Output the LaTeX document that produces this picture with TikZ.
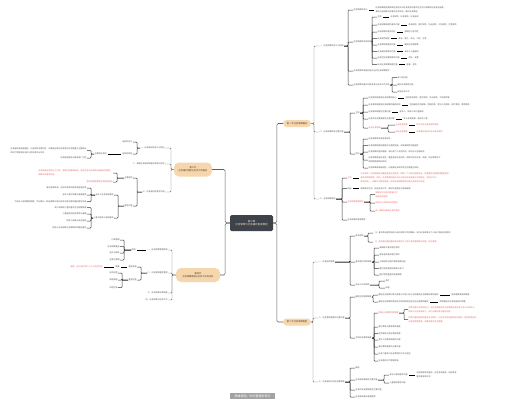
\documentclass[tikz,border=0pt]{standalone}
\usepackage{fontspec}
\setmainfont{Noto Sans CJK SC}
\usetikzlibrary{positioning}
\definecolor{txt}{HTML}{555555}
\definecolor{redc}{HTML}{EE5F5F}
\definecolor{pillc}{HTML}{F6D6AC}
\definecolor{pilltxt}{HTML}{4A3B2C}
\definecolor{ctrc}{HTML}{3D424B}
\definecolor{ctrtxt}{HTML}{F2DDB8}
\definecolor{ln0}{HTML}{5F5F5F}
\definecolor{ln1}{HTML}{707070}
\definecolor{ln2}{HTML}{3A3A3A}
\definecolor{capc}{HTML}{A3A3A3}
\begin{document}
\begin{tikzpicture}[x=1pt,y=-1pt,
 t/.style={font=\fontsize{2}{3.9}\selectfont,text=txt,inner sep=0.3pt,anchor=west,align=left},
 tl/.style={t,anchor=east},
 rd/.style={text=redc},
 pill/.style={fill=pillc,text=pilltxt,rounded corners=3.5pt,inner sep=0pt,font=\fontsize{2.2}{3.3}\selectfont,align=center},
 ctr/.style={fill=ctrc,text=ctrtxt,rounded corners=1.5pt,inner sep=0pt,font=\fontsize{2.5}{3.8}\selectfont,align=center,minimum width=43pt,minimum height=16pt},
 l0/.style={draw=ln0,line width=0.55pt,rounded corners=1.5pt},
 l1/.style={draw=ln1,line width=0.45pt,rounded corners=1pt},
 l2/.style={draw=ln2,line width=0.5pt,rounded corners=0.8pt},
 dsh/.style={draw=black,line width=0.8pt,shorten <=1pt,shorten >=1pt},
 captionbox/.style={fill=capc,text=white,inner sep=0pt,font=\fontsize{3}{3.5}\selectfont,minimum width=45pt,minimum height=6pt}]
\fill[white] (0,0) rectangle (506,407);

% ---------- main nodes ----------
\node[ctr] (C) at (251.5,223) {第三章\\社会保障与社会福利制度概述};
\node[pill,minimum width=28pt,minimum height=7pt] (R1) at (297,123.5) {第一节 社会保障概述};
\node[pill,minimum width=28pt,minimum height=7pt] (R2) at (297,322) {第二节 社会保障制度};
\node[pill,minimum width=38pt,minimum height=14pt,rounded corners=5pt] (L1) at (193,169.5) {第三节\\社会福利制度与社会工作服务};
\node[pill,minimum width=44pt,minimum height=14pt,rounded corners=5pt] (L2) at (198,275) {第四节\\社会保障管理与社会工作的关系};
\node[captionbox] (capt) at (252.5,396) {思维导图，知识整理好帮手};

% ---------- R1 subtree ----------
\node[t] (a) at (319,46) {一、社会保障的含义与构成};
\node[t] (b) at (319,132) {二、社会保障体系主要内容};
\node[t] (c) at (319,199) {三、社会保障原则};

\node[t] (a1) at (353,10) {社会保障的含义};
\node[t,right=7pt of a1] (a1x) {社会保障是指国家和社会依法对社会成员的基本生活予以保障的社会安全制度，\\其核心是保障公民基本生存权利，维护社会稳定。};
\node[t] (a2) at (353,42) {社会保障体系的构成};
\node[t] (a3) at (353,71) {社会保障的发展历程与当代社会保障模式};
\node[t] (a4) at (353,85) {社会保障的基本功能及其与社会工作关系};

\node[t] (a21) at (377,17) {主体};
\node[t] (a22) at (377,25) {社会保障制度的基本内容};
\node[t] (a23) at (377,32) {社会保障的基本特征};
\node[t] (a24) at (377,38.5) {社会保险制度};
\node[t] (a25) at (377,45) {社会救助制度的内容};
\node[t] (a26) at (377,51.5) {社会福利制度的内容};
\node[t] (a27) at (377,58) {社会优抚安置制度的内容};
\node[t] (a28) at (377,64.5) {补充社会保障制度内容};
\node[t,right=8pt of a21] (a21x) {社会保险、社会救助、社会福利};
\node[t,right=8pt of a22] (a22x) {养老保险、医疗保险、失业保险、工伤保险、生育保险};
\node[t,right=8pt of a23] (a23x) {强制性与互济性};
\node[t,right=8pt of a24] (a24x) {养老、医疗、失业、工伤、生育};
\node[t,right=8pt of a25] (a25x) {最低生活保障等};
\node[t,right=8pt of a26] (a26x) {老年人儿童福利};
\node[t,right=8pt of a27] (a27x) {优抚、安置};
\node[t,right=8pt of a28] (a28x) {慈善、互助};

\node[t] (a41) at (397,77.5) {收入再分配};
\node[t] (a42) at (397,85) {维护社会稳定功能};
\node[t] (a43) at (397,92) {促进社会公平};

\node[t] (b1) at (355,113) {主体};
\node[t] (b2) at (355,154) {特点};
\node[t] (b11) at (368,98) {社会保险制度是社会保障的核心};
\node[t] (b12) at (368,105) {社会救助制度是社会保障的最低层次};
\node[t] (b13) at (368,112) {社会福利制度的主要内容};
\node[t] (b14) at (368,119) {社会优抚安置制度的主要对象};
\node[t,rd] (b15) at (368,128) {补充社会保障};
\node[t,right=8pt of b11] (b11x) {包括养老保险、医疗保险、失业保险、工伤保险等};
\node[t,right=8pt of b12] (b12x) {包括最低生活保障、特困供养、受灾人员救助、医疗救助、教育救助};
\node[t,right=8pt of b13] (b13x) {老年人、残疾人和儿童福利};
\node[t,right=8pt of b14] (b14x) {军人及其家属、退役军人等};
\node[t,rd] (b151) at (395,125) {企业年金制度};
\node[t,rd,right=8pt of b151] (b151x) {职工的补充养老保险制度};
\node[t,rd] (b152) at (395,132) {职业年金制度};
\node[t,rd,right=8pt of b152] (b152x) {机关事业单位的补充养老保险};

\node[t] (b21) at (368,139) {社会保障项目具有多样性};
\node[t] (b22) at (368,145.5) {社会保障制度由国家立法强制实施，具有强制性和普遍性};
\node[t] (b23) at (368,152) {社会保障资金由国家、单位和个人共同负担，权利与义务相结合};
\node[t] (b24) at (368,160) {社会保障具有社会性，覆盖全体社会成员，保障公民在年老、疾病、失业等情况下\\获得物质帮助的权利};
\node[t] (b25) at (368,168) {社会保障具有福利性，以提高社会成员的生活质量为目标};

\node[t,rd] (c1) at (347,178) {公平};
\node[t,rd,right=8pt of c1] (c1x) {公平原则：社会保障应当覆盖全体社会成员，使每一个公民在遇到年老、疾病等生活困难时都能获得\\基本的物质帮助；同时，社会保障待遇水平应与经济社会发展水平相适应，实现公平与\\效率的统一，保障水平稳步提高，体现社会保障的再分配与互助共济功能。};
\node[t] (c2) at (347,188.5) {目标};
\node[t,right=8pt of c2] (c2x) {保障基本生活、促进社会公平、维护社会稳定与和谐发展};
\node[t,rd] (c3) at (347,202) {社会保障管理原则};
\node[t,rd] (c31) at (375,194.5) {保障水平与经济发展水平\\相适应的原则};
\node[t,rd] (c32) at (375,203) {权利与义务相对应的原则};
\node[t,rd] (c33) at (375,211) {统一管理与服务社会化原则};
\node[t] (c4) at (347,220) {社会保障的发展趋势};

% ---------- R2 subtree ----------
\node[t] (d) at (318,262) {一、社会保险制度};
\node[t] (e) at (318,318) {二、社会救助制度的主要内容};
\node[t] (f) at (318,382) {三、社会福利与优抚安置制度};

\node[t] (d1) at (355,236) {养老保险};
\node[t] (d2) at (355,262) {基本医疗保险制度};
\node[t] (d3) at (355,285) {失业与工伤保险};
\node[t] (d11) at (373,233) {（1）基本养老保险由用人单位和职工共同缴纳，实行社会统筹与个人账户相结合的模式};
\node[t,rd] (d12) at (373,242) {（2）养老金待遇由基础养老金和个人账户养老金两部分组成，按月发放};
\node[t] (d21) at (379,248) {城镇职工基本医疗保险};
\node[t] (d22) at (379,255) {城乡居民基本医疗保险};
\node[t] (d23) at (379,262) {大病保险与医疗救助制度衔接};
\node[t] (d24) at (379,268.5) {医疗保险费用的结算与支付};
\node[t] (d25) at (379,275) {医疗保险基金的监督管理};
\node[t] (d31) at (385,281) {条件};
\node[t] (d32) at (385,288) {待遇};

\node[t] (e1) at (355,297) {最低生活保障制度};
\node[t] (e2) at (355,338) {专项社会救助制度};
\node[t] (e11) at (378,295) {最低生活保障对象为家庭人均收入低于当地最低生活保障标准的居民};
\node[t,right=12pt of e11] (e11x) {按照差额发放保障金};
\node[t] (e12) at (378,302) {最低生活保障标准由地方政府按照当地生活必需费用确定};
\node[t,right=10pt of e12] (e12x) {并根据经济社会发展适时调整};
\node[t,rd] (e21) at (378,313) {特困人员救助供养制度};
\node[t,rd] (e211) at (408,309.5) {供养对象为无劳动能力、无生活来源且无法定赡养抚养扶养义务人的老年人、\\残疾人以及未成年人，实行分散供养与集中供养};
\node[t,rd] (e212) at (408,319.5) {供养内容包括提供基本生活条件、对生活不能自理的给予照料、提供疾病治疗\\办理丧葬事宜等，保障其基本生活需要};
\node[t] (e22) at (378,327) {医疗救助与教育救助制度};
\node[t] (e23) at (378,333.5) {住房救助与就业救助制度};
\node[t] (e24) at (378,340) {受灾人员救助制度的内容};
\node[t] (e25) at (378,347) {临时救助制度的主要内容};
\node[t] (e26) at (378,354) {社会力量参与社会救助的方式与途径};
\node[t] (e27) at (378,361) {社会救助工作管理体制};

\node[t] (f1) at (355,368) {概述};
\node[t] (f2) at (355,380) {社会福利制度的主要内容};
\node[t] (f3) at (355,390) {社会优抚安置制度的主要内容};
\node[t] (f4) at (355,397) {社会福利事业发展趋势};
\node[t] (f21) at (389,375) {老年人福利服务内容};
\node[t,right=8pt of f21] (f21x) {包括居家养老服务、社区养老服务、机构养老\\服务等多种形式};
\node[t] (f22) at (389,383) {儿童福利服务内容};

% ---------- L1 subtree ----------
\node[tl] (g) at (165,148) {一、社会福利的含义与特征};
\node[tl] (h) at (165,164) {二、我国社会福利制度的发展与现状};
\node[tl] (i) at (165,192) {三、社会福利的基本内容};
\node[tl] (g1) at (133,142) {福利的含义};
\node[tl] (g2) at (133,154) {福利的特征};
\node[tl] (g2x) at (107,154) {主要特征表现};
\node[tl] (g21) at (87,150.5) {社会福利具有普遍性、公益性和非营利性，以提高全体社会成员的生活质量为主要目标\\体现了国家和社会对公民的责任与关怀};
\node[tl] (g22) at (87,158) {社会福利服务对象具有广泛性};
\node[tl] (i1) at (133,178) {主要原则};
\node[tl] (i2) at (133,206) {服务内容};
\node[tl,rd] (i11) at (113,173) {社会福利应坚持以人为本、普惠与特惠相结合、政府主导与社会参与相结合的原则，\\保障公民基本权益};
\node[tl,rd] (i12) at (113,182) {坚持适度普惠型社会福利原则};
\node[tl] (i21) at (114,195) {老年人社会福利服务};
\node[tl] (i22) at (114,218) {儿童与残疾人福利服务};
\node[tl] (i211) at (87,188) {建立居家养老、社区养老和机构养老服务体系};
\node[tl] (i212) at (87,195) {老年人医疗保健与康复服务};
\node[tl] (i213) at (87,201.5) {为老年人提供精神慰藉、文化娱乐、权益保障以及社会参与等方面的福利服务内容};
\node[tl] (i221) at (87,207.5) {孤儿和困境儿童的基本生活保障制度};
\node[tl] (i222) at (87,214) {儿童福利机构的养育与康复};
\node[tl] (i223) at (87,221) {残疾人康复与就业服务};
\node[tl] (i224) at (87,228) {残疾人社会保障与无障碍环境建设服务};

% ---------- L2 subtree ----------
\node[tl] (j) at (168,250) {一、社会保障管理体制};
\node[tl] (jx) at (136,250) {构成};
\node[tl] (j1) at (120,240) {行政管理};
\node[tl] (j2) at (120,246.5) {社会保障基金};
\node[tl] (j3) at (120,253) {经办与服务};
\node[tl] (j4) at (120,260) {监督与管理};
\node[tl] (k) at (168,273) {二、社会保障基金管理};
\node[tl] (k1) at (137,267) {基金来源};
\node[tl] (k1x) at (120,267) {筹集};
\node[tl,rd] (k1y) at (103,267) {国家、用人单位和个人三方共同负担};
\node[tl] (k2) at (137,280) {基金运营};
\node[tl] (k21) at (118,273) {投资运营};
\node[tl] (k22) at (118,280) {保值增值};
\node[tl] (k23) at (118,287.5) {风险控制};
\node[tl] (l) at (168,293) {三、社会保障法律制度};
\node[tl] (m) at (168,300) {四、社会保障与社会工作};

% ---------- connectors ----------
\draw[l0] (C.east) -| ([xshift=-6pt]R1.west) -- (R1.west);
\draw[l0] (C.east) -| ([xshift=-6pt]R2.west) -- (R2.west);
\draw[l0] (C.west) -| ([xshift=13pt]L1.east) -- (L1.east);
\draw[l0] (C.west) -| ([xshift=5pt]L2.east) -- (L2.east);

\foreach \n in {a,b,c} \draw[l1] (R1.east) -| ([xshift=-5pt]\n.west) -- (\n.west);
\foreach \n in {d,e,f} \draw[l1] (R2.east) -| ([xshift=-5pt]\n.west) -- (\n.west);
\foreach \n in {g,h,i} \draw[l1] (L1.west) -| ([xshift=6pt]\n.east) -- (\n.east);
\foreach \n in {j,k,l,m} \draw[l1] (L2.west) -| ([xshift=4pt]\n.east) -- (\n.east);

\foreach \n in {a1,a2,a3,a4} \draw[l2] (a.east) -| ([xshift=-5pt]\n.west) -- (\n.west);
\foreach \n in {a21,a22,a23,a24,a25,a26,a27,a28} \draw[l2] (a2.east) -| ([xshift=-5pt]\n.west) -- (\n.west);
\foreach \n in {a41,a42,a43} \draw[l2] (a4.east) -| ([xshift=-5pt]\n.west) -- (\n.west);
\foreach \n in {b1,b2} \draw[l2] (b.east) -| ([xshift=-5pt]\n.west) -- (\n.west);
\foreach \n in {b11,b12,b13,b14,b15} \draw[l2] (b1.east) -| ([xshift=-5pt]\n.west) -- (\n.west);
\foreach \n in {b151,b152} \draw[l2] (b15.east) -| ([xshift=-7pt]\n.west) -- (\n.west);
\foreach \n in {b21,b22,b23,b24,b25} \draw[l2] (b2.east) -| ([xshift=-5pt]\n.west) -- (\n.west);
\foreach \n in {c1,c2,c3,c4} \draw[l2] (c.east) -| ([xshift=-5pt]\n.west) -- (\n.west);
\foreach \n in {c31,c32,c33} \draw[l2] (c3.east) -| ([xshift=-5pt]\n.west) -- (\n.west);
\foreach \n in {d1,d2,d3} \draw[l2] (d.east) -| ([xshift=-5pt]\n.west) -- (\n.west);
\foreach \n in {d11,d12} \draw[l2] (d1.east) -| ([xshift=-5pt]\n.west) -- (\n.west);
\foreach \n in {d21,d22,d23,d24,d25} \draw[l2] (d2.east) -| ([xshift=-5pt]\n.west) -- (\n.west);
\foreach \n in {d31,d32} \draw[l2] (d3.east) -| ([xshift=-6pt]\n.west) -- (\n.west);
\foreach \n in {e1,e2} \draw[l2] (e.east) -| ([xshift=-5pt]\n.west) -- (\n.west);
\foreach \n in {e11,e12} \draw[l2] (e1.east) -| ([xshift=-5pt]\n.west) -- (\n.west);
\foreach \n in {e21,e22,e23,e24,e25,e26,e27} \draw[l2] (e2.east) -| ([xshift=-4pt]\n.west) -- (\n.west);
\foreach \n in {e211,e212} \draw[l2] (e21.east) -| ([xshift=-4pt]\n.west) -- (\n.west);
\foreach \n in {f1,f2,f3,f4} \draw[l2] (f.east) -| ([xshift=-5pt]\n.west) -- (\n.west);
\foreach \n in {f21,f22} \draw[l2] (f2.east) -| ([xshift=-5pt]\n.west) -- (\n.west);

\foreach \n in {g1,g2} \draw[l2] (g.west) -| ([xshift=4pt]\n.east) -- (\n.east);
\foreach \n in {g21,g22} \draw[l2] (g2x.west) -| ([xshift=4pt]\n.east) -- (\n.east);
\foreach \n in {i1,i2} \draw[l2] (i.west) -| ([xshift=4pt]\n.east) -- (\n.east);
\foreach \n in {i11,i12} \draw[l2] (i1.west) -| ([xshift=4pt]\n.east) -- (\n.east);
\foreach \n in {i21,i22} \draw[l2] (i2.west) -| ([xshift=4pt]\n.east) -- (\n.east);
\foreach \n in {i211,i212,i213} \draw[l2] (i21.west) -| ([xshift=4pt]\n.east) -- (\n.east);
\foreach \n in {i221,i222,i223,i224} \draw[l2] (i22.west) -| ([xshift=4pt]\n.east) -- (\n.east);
\foreach \n in {j1,j2,j3,j4} \draw[l2] (jx.west) -| ([xshift=4pt]\n.east) -- (\n.east);
\foreach \n in {k1,k2} \draw[l2] (k.west) -| ([xshift=4pt]\n.east) -- (\n.east);
\foreach \n in {k21,k22,k23} \draw[l2] (k2.west) -| ([xshift=4pt]\n.east) -- (\n.east);

% dashes in chains
\foreach \p/\q in {a1/a1x,a21/a21x,a22/a22x,a23/a23x,a24/a24x,a25/a25x,a26/a26x,a27/a27x,a28/a28x,b11/b11x,b12/b12x,b13/b13x,b14/b14x,b151/b151x,b152/b152x,c1/c1x,c2/c2x,e11/e11x,e12/e12x,f21/f21x}
  \draw[dsh] (\p.east) -- (\q.west);
\foreach \p/\q in {g2/g2x,j/jx,k1/k1x,k1x/k1y}
  \draw[dsh] (\p.west) -- (\q.east);
\end{tikzpicture}
\end{document}
